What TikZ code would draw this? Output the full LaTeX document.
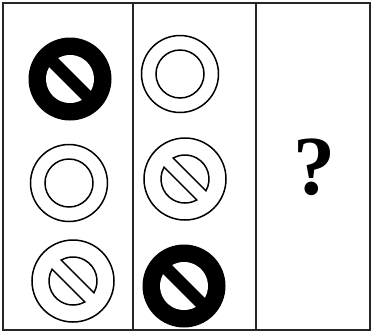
\documentclass[tikz,border=0pt]{standalone}
\usepackage{fontspec}
\setmainfont{Liberation Serif}
\begin{document}
\begin{tikzpicture}[x=1pt,y=-1pt,
  frame/.style={line width=1.6pt,black!85},
  ringline/.style={line width=1.5pt},
]
\useasboundingbox (0,0) rectangle (373,333);
% frame
\draw[frame] (3,3) rectangle (370,330);
\draw[frame] (133,3) -- (133,330);
\draw[frame] (256,3) -- (256,330);

\def\rin{24}
% plain ring
\newcommand{\plainring}[1]{%
  \draw[ringline] (#1) circle[radius=38.5];
  \draw[ringline] (#1) circle[radius=\rin];}
% slashed ring
\newcommand{\slashring}[1]{%
  \draw[ringline] (#1) circle[radius=41];
  \draw[ringline] (#1) ++(29.3:\rin) arc[start angle=29.3,end angle=-119.3,radius=\rin] -- cycle;
  \draw[ringline] (#1) ++(209.3:\rin) arc[start angle=209.3,end angle=60.7,radius=\rin] -- cycle;}
% filled ring
\newcommand{\fullring}[1]{%
  \fill[black] (#1) circle[radius=41.5];
  \fill[white] (#1) ++(29.3:\rin) arc[start angle=29.3,end angle=-119.3,radius=\rin] -- cycle;
  \fill[white] (#1) ++(209.3:\rin) arc[start angle=209.3,end angle=60.7,radius=\rin] -- cycle;}

\coordinate (a1) at (70,79);
\coordinate (b1) at (180,74);
\coordinate (a2) at (69,183);
\coordinate (b2) at (185,179);
\coordinate (a3) at (73,281);
\coordinate (b3) at (184,286);

\fullring{a1}
\plainring{b1}
\plainring{a2}
\slashring{b2}
\slashring{a3}
\fullring{b3}

\node[font=\fontsize{84}{84}\selectfont\bfseries] (q) at (314,167) {?};
\end{tikzpicture}
\end{document}
